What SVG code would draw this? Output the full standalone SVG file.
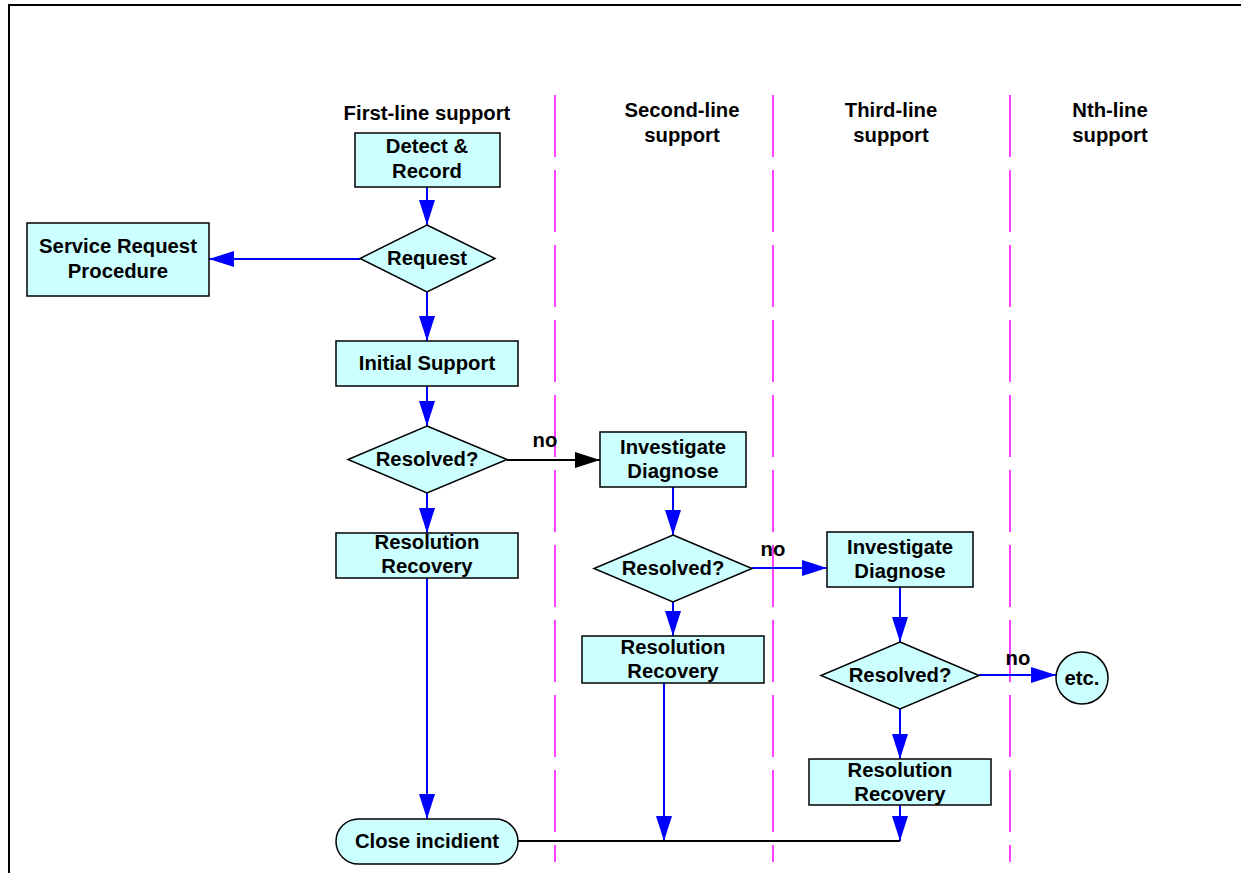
<svg xmlns="http://www.w3.org/2000/svg" width="1241" height="873" viewBox="0 0 1241 873">
  <style>
    .box { fill: #CCFFFF; stroke: #000; stroke-width: 1.5; }
    .lbl { font-family: "Liberation Sans", Arial, sans-serif; font-weight: bold; font-size: 20.3px; fill: #000; text-anchor: middle; }
    .flow { stroke: #0000FF; stroke-width: 2; fill: none; }
    .flowk { stroke: #000; stroke-width: 2; fill: none; }
    .lane { stroke: #FF00FF; stroke-width: 1.5; stroke-dasharray: 62 13; fill: none; }
  </style>
  <defs>
    <marker id="arrB" markerUnits="userSpaceOnUse" markerWidth="26" markerHeight="18" refX="25" refY="8" orient="auto">
      <path d="M0,0 L25,8 L0,16 Z" fill="#0000FF"/>
    </marker>
    <marker id="arrK" markerUnits="userSpaceOnUse" markerWidth="26" markerHeight="18" refX="25" refY="8" orient="auto">
      <path d="M0,0 L25,8 L0,16 Z" fill="#000"/>
    </marker>
  </defs>

  <rect width="1241" height="873" fill="#fff"/>
  <!-- outer frame -->
  <path d="M9,873 V5 H1241" fill="none" stroke="#000" stroke-width="2"/>

  <!-- swimlane separators -->
  <g id="lanes">
    <line class="lane" x1="555" y1="95" x2="555" y2="862"/>
    <line class="lane" x1="773" y1="95" x2="773" y2="862"/>
    <line class="lane" x1="1010" y1="95" x2="1010" y2="862"/>
  </g>

  <!-- lane headings -->
  <g id="headers">
    <text class="lbl" x="427" y="120">First-line support</text>
    <text class="lbl" x="682" y="117">Second-line</text>
    <text class="lbl" x="682" y="142">support</text>
    <text class="lbl" x="891" y="117">Third-line</text>
    <text class="lbl" x="891" y="142">support</text>
    <text class="lbl" x="1110" y="117">Nth-line</text>
    <text class="lbl" x="1110" y="142">support</text>
  </g>

  <!-- connectors -->
  <g id="connectors">
    <line class="flow" x1="427" y1="187" x2="427" y2="225" marker-end="url(#arrB)"/>
    <line class="flow" x1="360" y1="259" x2="209" y2="259" marker-end="url(#arrB)"/>
    <line class="flow" x1="427" y1="292" x2="427" y2="341" marker-end="url(#arrB)"/>
    <line class="flow" x1="427" y1="386" x2="427" y2="426" marker-end="url(#arrB)"/>
    <line class="flow" x1="427" y1="493" x2="427" y2="533" marker-end="url(#arrB)"/>
    <line class="flowk" x1="507" y1="460" x2="600" y2="460" marker-end="url(#arrK)"/>
    <line class="flow" x1="427" y1="578" x2="427" y2="819" marker-end="url(#arrB)"/>
    <line class="flow" x1="673" y1="487" x2="673" y2="535" marker-end="url(#arrB)"/>
    <line class="flow" x1="673" y1="602" x2="673" y2="636" marker-end="url(#arrB)"/>
    <line class="flow" x1="752" y1="568" x2="827" y2="568" marker-end="url(#arrB)"/>
    <line class="flow" x1="664" y1="683" x2="664" y2="841" marker-end="url(#arrB)"/>
    <line class="flow" x1="900" y1="587" x2="900" y2="642" marker-end="url(#arrB)"/>
    <line class="flow" x1="900" y1="709" x2="900" y2="759" marker-end="url(#arrB)"/>
    <line class="flow" x1="979" y1="675" x2="1056" y2="675" marker-end="url(#arrB)"/>
    <line class="flow" x1="900" y1="805" x2="900" y2="841" marker-end="url(#arrB)"/>
    <line class="flowk" x1="518" y1="841" x2="900" y2="841"/>
    <text class="lbl" x="545" y="447">no</text>
    <text class="lbl" x="773" y="556">no</text>
    <text class="lbl" x="1018" y="665">no</text>
  </g>

  <!-- first-line support -->
  <g id="detect">
    <rect class="box" x="355" y="133" width="145" height="54"/>
    <text class="lbl" x="427" y="153">Detect &amp;</text>
    <text class="lbl" x="427" y="178">Record</text>
  </g>
  <g id="request">
    <polygon class="box" points="427,225 495,258.5 427,292 360,258.5"/>
    <text class="lbl" x="427" y="265">Request</text>
  </g>
  <g id="service-request">
    <rect class="box" x="27" y="223" width="182" height="73"/>
    <text class="lbl" x="118" y="253">Service Request</text>
    <text class="lbl" x="118" y="278">Procedure</text>
  </g>
  <g id="initial-support">
    <rect class="box" x="336" y="341" width="182" height="45"/>
    <text class="lbl" x="427" y="370">Initial Support</text>
  </g>
  <g id="resolved-1">
    <polygon class="box" points="427,426 507,459.5 427,493 348,459.5"/>
    <text class="lbl" x="427" y="466">Resolved?</text>
  </g>
  <g id="resolution-1">
    <rect class="box" x="336" y="533" width="182" height="45"/>
    <text class="lbl" x="427" y="549">Resolution</text>
    <text class="lbl" x="427" y="573">Recovery</text>
  </g>
  <g id="close">
    <rect class="box" x="336" y="819" width="182" height="45" rx="22.5" ry="22.5"/>
    <text class="lbl" x="427" y="848">Close incidient</text>
  </g>

  <!-- second-line support -->
  <g id="investigate-2">
    <rect class="box" x="600" y="432" width="146" height="55"/>
    <text class="lbl" x="673" y="454">Investigate</text>
    <text class="lbl" x="673" y="478">Diagnose</text>
  </g>
  <g id="resolved-2">
    <polygon class="box" points="673,535 752,568.5 673,602 594,568.5"/>
    <text class="lbl" x="673" y="575">Resolved?</text>
  </g>
  <g id="resolution-2">
    <rect class="box" x="582" y="636" width="182" height="47"/>
    <text class="lbl" x="673" y="654">Resolution</text>
    <text class="lbl" x="673" y="678">Recovery</text>
  </g>

  <!-- third-line support -->
  <g id="investigate-3">
    <rect class="box" x="827" y="532" width="146" height="55"/>
    <text class="lbl" x="900" y="554">Investigate</text>
    <text class="lbl" x="900" y="578">Diagnose</text>
  </g>
  <g id="resolved-3">
    <polygon class="box" points="900,642 979,675.5 900,709 821,675.5"/>
    <text class="lbl" x="900" y="682">Resolved?</text>
  </g>
  <g id="resolution-3">
    <rect class="box" x="809" y="759" width="182" height="46"/>
    <text class="lbl" x="900" y="777">Resolution</text>
    <text class="lbl" x="900" y="801">Recovery</text>
  </g>

  <!-- nth-line support -->
  <g id="etc">
    <circle class="box" cx="1082" cy="678" r="26"/>
    <text class="lbl" x="1082" y="685">etc.</text>
  </g>
</svg>
